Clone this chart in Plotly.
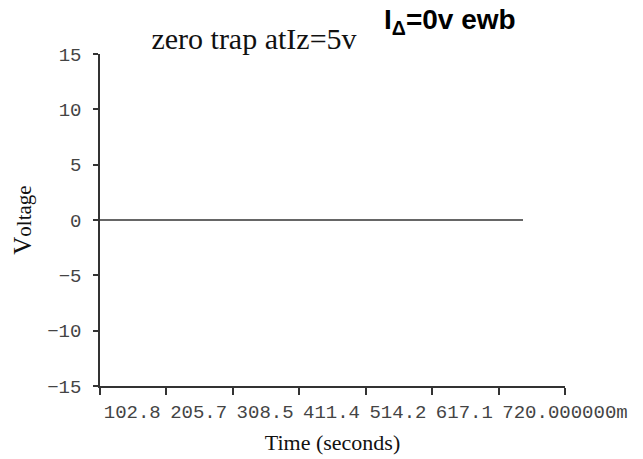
import plotly.graph_objects as go

# Data
time_ms = [0, 655]
voltage = [0, 0]

x_tick_vals = [0, 102.857143, 205.714286, 308.571429, 411.428571, 514.285714, 617.142857, 720.0]
# visible parts of the overlapping tick labels in the reference
x_tick_frag = ["", "102.8", "205.7", "308.5", "411.4", "514.2", "617.1", "720.000000m"]
y_tick_vals = [-15, -10, -5, 0, 5, 10, 15]

title_text = "zero trap atIz=5v"
subtitle_text = "I<sub>\u0394</sub>=0v ewb"
x_title = "Time (seconds)"
y_title = "<span style='font-size:25px'>V</span>oltage"

NB = "\u00a0"
x_tick_text = [t + NB * (11 - len(t)) if t else NB for t in x_tick_frag]

mono = dict(family="Liberation Mono", size=19, color="#444444")
serif = "Liberation Serif"

W, H = 643, 459
L, R, T, B = 100, 78, 54, 73

fig = go.Figure()
fig.add_trace(go.Scatter(
    x=time_ms, y=voltage, mode="lines",
    line=dict(color="#333333", width=1.5),
    showlegend=False, hoverinfo="skip",
))

pw, ph = W - L - R, H - T - B
fig.update_layout(
    template="none",
    width=W, height=H,
    margin=dict(l=L, r=R, t=T, b=B, autoexpand=False),
    paper_bgcolor="white", plot_bgcolor="white",
    title=dict(text=title_text, x=254 / W, xanchor="center",
               y=1 - 38 / H, yanchor="middle", xref="container", yref="container",
               font=dict(family=serif, size=30, color="#111111")),
    annotations=[dict(text=subtitle_text, x=(450 - L) / pw, y=(H - B - 22) / ph,
                      xref="paper", yref="paper", xanchor="center", yanchor="middle",
                      showarrow=False,
                      font=dict(family="Liberation Sans", size=28, color="#000000",
                                weight="bold"))],
)

fig.update_xaxes(
    range=[0, 720], tickvals=x_tick_vals, ticktext=x_tick_text, tickangle=0,
    automargin=False,
    showgrid=False, zeroline=False,
    showline=True, linecolor="#333333", linewidth=1.5,
    ticks="outside", ticklen=7, tickwidth=1.5, tickcolor="#333333",
    tickfont=mono, ticklabelstandoff=0,
    title=dict(text=x_title, font=dict(family=serif, size=22, color="#111111"), standoff=12),
)
fig.update_yaxes(
    range=[-15, 15], tickvals=y_tick_vals,
    automargin=False,
    showgrid=False, zeroline=False,
    showline=True, linecolor="#333333", linewidth=1.5,
    ticks="outside", ticklen=5, tickwidth=1.5, tickcolor="#333333",
    tickfont=mono, ticklabelstandoff=8,
    title=dict(text=y_title, font=dict(family=serif, size=21, color="#111111"), standoff=10),
)

fig.write_html("out.html")
